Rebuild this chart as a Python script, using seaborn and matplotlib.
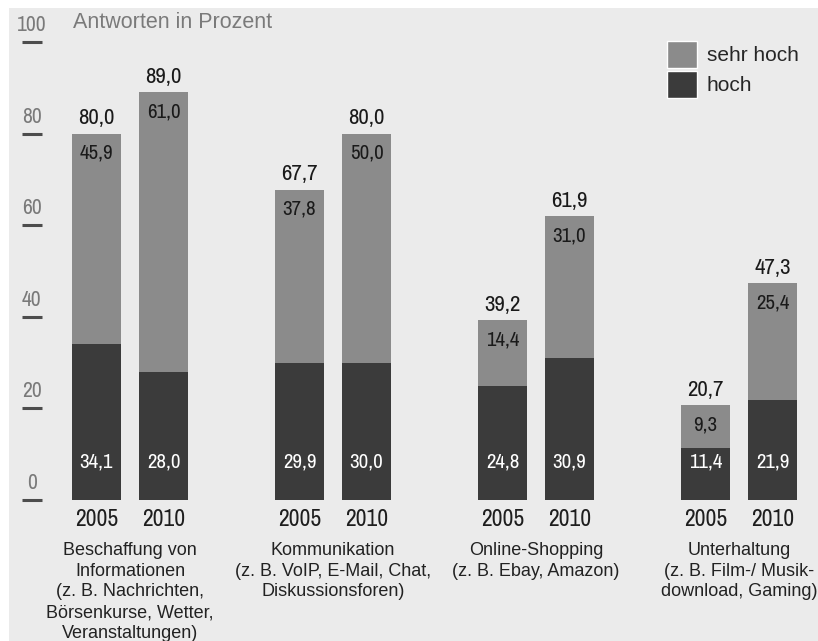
import matplotlib
matplotlib.use("Agg")
import matplotlib.pyplot as plt
import matplotlib.patches as mpatches
from matplotlib import font_manager
import pandas as pd
import seaborn as sb

# data
kategorien = [
    "Beschaffung von\nInformationen\n(z. B. Nachrichten,\nBörsenkurse, Wetter,\nVeranstaltungen)",
    "Kommunikation\n(z. B. VoIP, E-Mail, Chat,\nDiskussionsforen)",
    "Online-Shopping\n(z. B. Ebay, Amazon)",
    "Unterhaltung\n(z. B. Film-/ Musik-\ndownload, Gaming)",
]
jahre = ["2005", "2010"]
hoch = [34.1, 28.0, 29.9, 30.0, 24.8, 30.9, 11.4, 21.9]
sehr_hoch = [45.9, 61.0, 37.8, 50.0, 14.4, 31.0, 9.3, 25.4]
gesamt = [80.0, 89.0, 67.7, 80.0, 39.2, 61.9, 20.7, 47.3]
yticks = [0, 20, 40, 60, 80, 100]

HELL = "#8b8b8b"
DUNKEL = "#3b3b3b"
BG = "#ebebeb"

sb.set_style("white")
names = sorted({f.name for f in font_manager.fontManager.ttflist})
narrow = [n for n in names if "Narrow" in n or "Condensed" in n]
if "Liberation Sans Narrow" in names:
    NUM = "Liberation Sans Narrow"
elif narrow:
    NUM = narrow[0]
else:
    NUM = "DejaVu Sans"
TXT = "Liberation Sans" if "Liberation Sans" in names else "DejaVu Sans"
plt.rcParams["font.family"] = [TXT, "DejaVu Sans"]
numfont = [NUM, "DejaVu Sans"]

def fmt(v):
    return f"{v:.1f}".replace(".", ",")

# layout: bar positions (group gap slightly over 3 bar-steps)
pos = []
for g in range(len(kategorien)):
    for j in range(len(jahre)):
        pos.append(g * 3.03 + j)

df = pd.DataFrame({"pos": pos, "gesamt": gesamt, "hoch": hoch,
                   "sehr_hoch": sehr_hoch,
                   "jahr": jahre * len(kategorien)})

fig = plt.figure(figsize=(8.18, 6.41), dpi=100)
fig.patch.set_facecolor("white")
fig.patches.append(mpatches.Rectangle((9 / 818, 0), 1, 1 - 8 / 641,
                                      transform=fig.transFigure,
                                      facecolor=BG, edgecolor="none", zorder=-10))

ax = fig.add_axes([42 / 818, (641 - 500) / 641, (818 - 42) / 818, 492 / 641])
ax.set_facecolor("none")

sb.barplot(data=df, x="pos", y="gesamt", native_scale=True, width=0.73,
           color=HELL, saturation=1, linewidth=0, errorbar=None, ax=ax)
sb.barplot(data=df, x="pos", y="hoch", native_scale=True, width=0.73,
           color=DUNKEL, saturation=1, linewidth=0, errorbar=None, ax=ax)

px_unit = 67.0
ax.set_xlim((42 - 96.5) / px_unit, (818 - 96.5) / px_unit)
ax.set_ylim(0, 492 / 4.58)
for s in ax.spines.values():
    s.set_visible(False)

# y ticks: short dash with number above
ax.set_yticks(yticks)
ax.set_yticklabels([])
ax.tick_params(axis="y", direction="out", length=14.5, width=2.2, color="#4d4d4d", left=True)
for t in yticks:
    ax.annotate(str(t), xy=(0, t), xycoords=("axes fraction", "data"),
                xytext=(-7.5, 5), textcoords="offset points",
                ha="center", va="bottom", fontsize=15.5, color="#7a7a7a",
                family=numfont)

# x: years and categories
ax.set_xticks(df["pos"])
ax.set_xticklabels(df["jahr"], fontsize=17, color="#1e1e1e", family=numfont)
ax.tick_params(axis="x", length=0, pad=6.5)
ax.set_xlabel("")
ax.set_ylabel("")
for g, name in enumerate(kategorien):
    xc = (pos[2 * g] + pos[2 * g + 1]) / 2
    ax.annotate(name, xy=(xc, 0), xycoords=("data", "axes fraction"),
                xytext=(0, -30), textcoords="offset points",
                ha="center", va="top", fontsize=13, color="#222222",
                linespacing=1.3)

# value labels
for x, tot, h, sh in zip(pos, gesamt, hoch, sehr_hoch):
    ax.annotate(fmt(tot), xy=(x, tot), xytext=(0, 4), textcoords="offset points",
                ha="center", va="bottom", fontsize=16.5, color="#1a1a1a",
                family=numfont)
    ax.annotate(fmt(sh), xy=(x, tot), xytext=(0, -14), textcoords="offset points",
                ha="center", va="center", fontsize=15, color="#1a1a1a",
                family=numfont)
    ax.annotate(fmt(h), xy=(x, 0), xytext=(0, 27), textcoords="offset points",
                ha="center", va="center", fontsize=15, color="white",
                family=numfont)

fig.text(73 / 818, 1 - 22 / 641, "Antworten in Prozent", fontsize=15.5,
         color="#7a7a7a", ha="left", va="center")

handles = [mpatches.Patch(facecolor=HELL, label="sehr hoch"),
           mpatches.Patch(facecolor=DUNKEL, label="hoch")]
fig.legend(handles=handles, loc="upper left", bbox_to_anchor=(661 / 818, 1 - 35 / 641),
           frameon=False, handlelength=1.45, handleheight=1.6,
           handletextpad=0.45, labelspacing=0.15, borderaxespad=0, borderpad=0.3,
           prop={"family": TXT, "size": 15})

fig.savefig("out.png", dpi=100, facecolor=fig.get_facecolor())
